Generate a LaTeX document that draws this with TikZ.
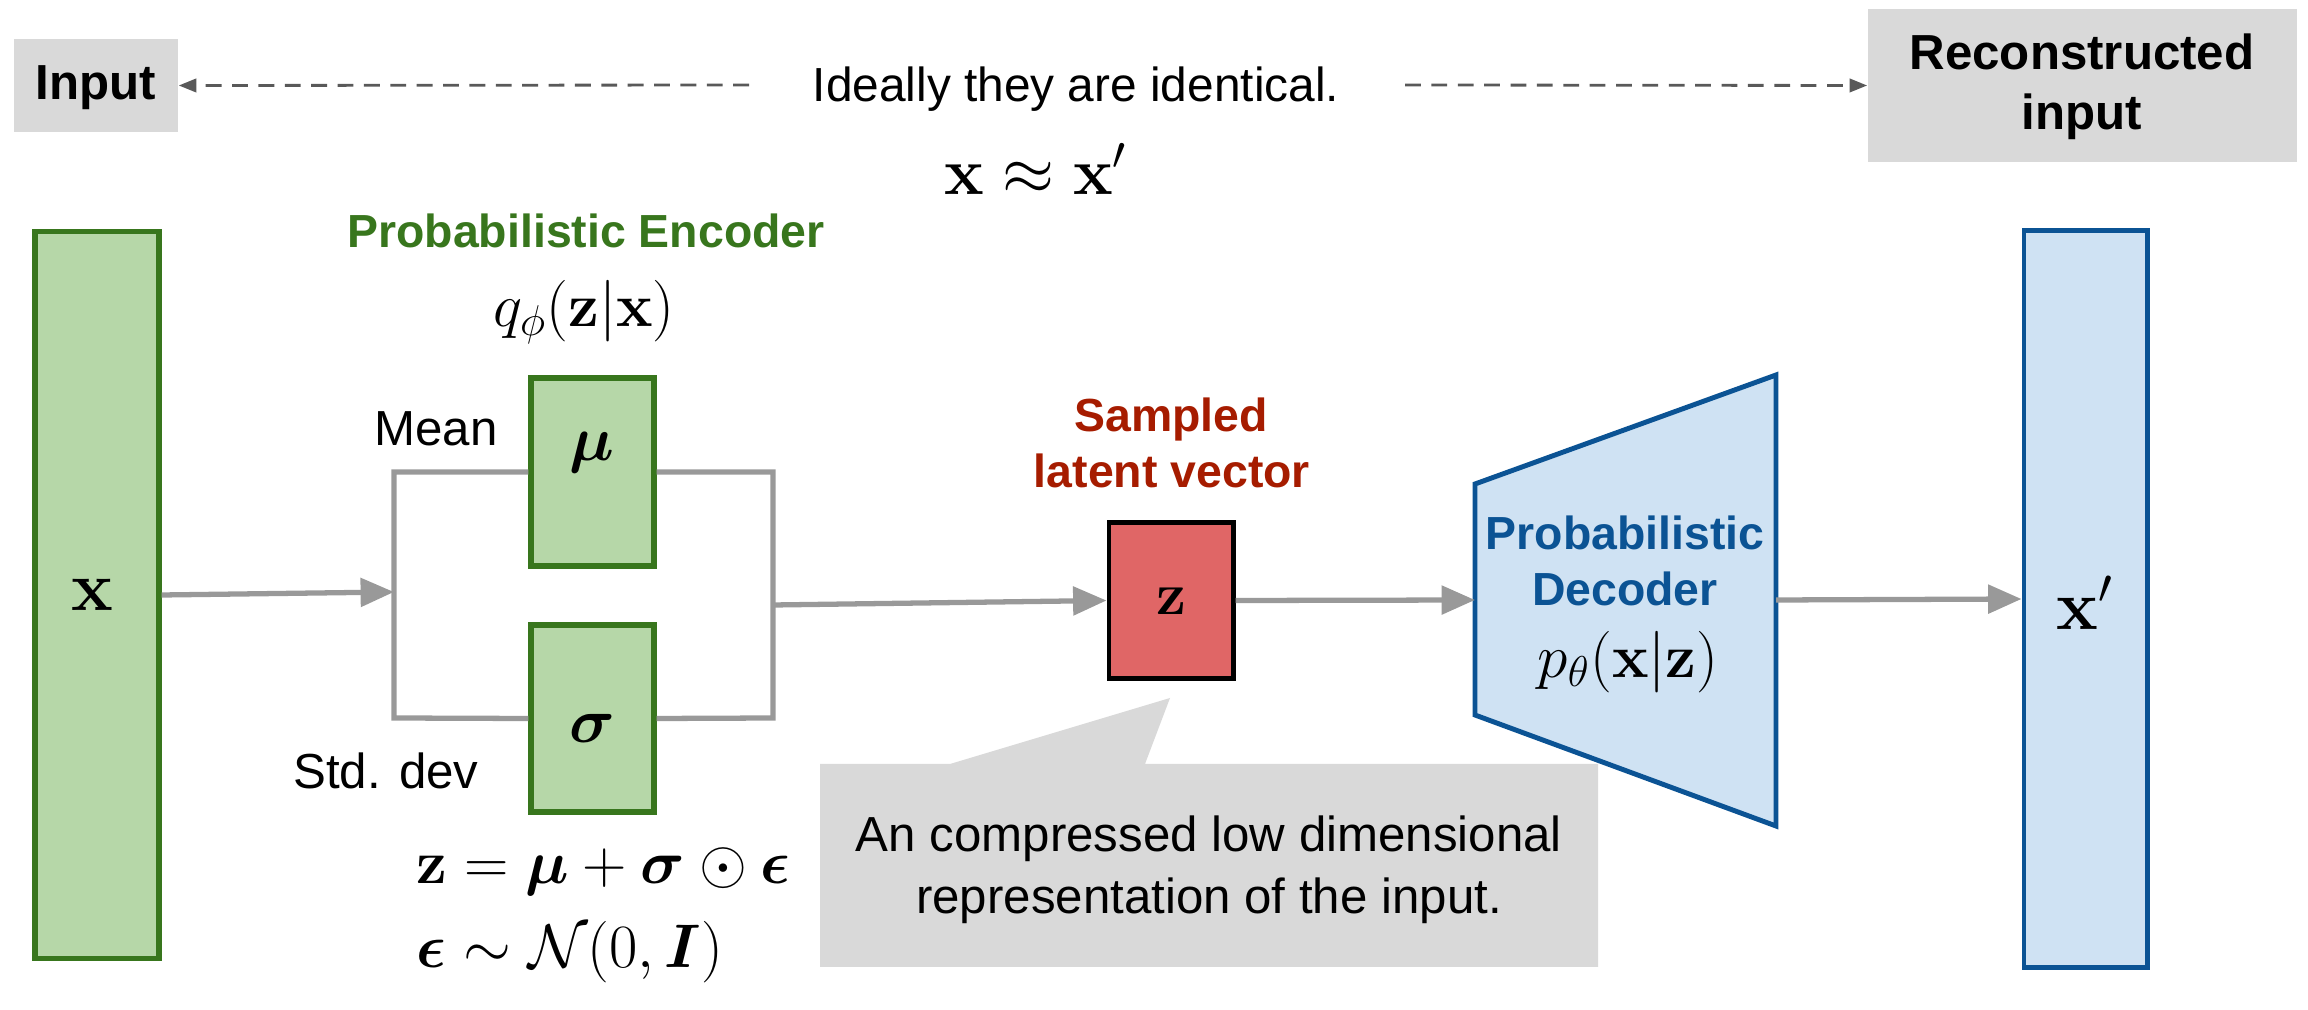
\RequirePackage{fix-cm}
\documentclass[tikz,border=0pt]{standalone}
\usepackage{amsmath,bm}
\usepackage[no-math]{fontspec}
\setmainfont{Liberation Sans}
\usetikzlibrary{arrows.meta}
\definecolor{boxgray}{HTML}{D9D9D9}
\definecolor{conngray}{HTML}{999999}
\definecolor{dashgray}{HTML}{595959}
\definecolor{encgreen}{HTML}{38761D}
\definecolor{encfill}{HTML}{B6D7A8}
\definecolor{decblue}{HTML}{0B5394}
\definecolor{decfill}{HTML}{CFE2F3}
\definecolor{zred}{HTML}{E06666}
\definecolor{zlabel}{HTML}{A61C00}
\begin{document}
\begin{tikzpicture}[x=0.01cm,y=-0.01cm,
  sans/.style={font=\fontsize{14}{17}\selectfont},
  bsans/.style={font=\fontsize{14}{17}\selectfont\bfseries},
  bsanss/.style={font=\fontsize{13.2}{16}\selectfont\bfseries},
  mathlbl/.style={font=\fontsize{17.5}{20}\selectfont},
  graybox/.style={fill=boxgray, inner sep=0pt},
  encbox/.style={draw=encgreen, fill=encfill, line width=1.5pt, inner sep=0pt},
  decbox/.style={draw=decblue, fill=decfill, line width=1.4pt, inner sep=0pt},
  zbox/.style={draw=black, fill=zred, line width=1.4pt, inner sep=0pt},
  conn/.style={draw=conngray, line width=1.5pt, -{Triangle[length=9.5pt,width=8pt]}},
  bracket/.style={draw=conngray, line width=1.5pt},
  dasharrow/.style={draw=dashgray, line width=0.8pt, dash pattern=on 4.5pt off 3pt, -{Triangle[length=5pt,width=3.8pt]}}
]
\useasboundingbox (0,0) rectangle (2308,1010);

% top row
\node[graybox, minimum width=1.64cm, minimum height=0.93cm] (inp) at (96,85.5) {};
\node[bsans, anchor=base] (inptxt) at (96,100) {Input};
\node[graybox, minimum width=4.29cm, minimum height=1.53cm] (rec) at (2082.5,85.5) {};
\node[bsans, anchor=base] (rectxt1) at (2082,70) {Reconstructed};
\node[bsans, anchor=base] (rectxt2) at (2082,130) {input};
\node[font=\fontsize{13.6}{16}\selectfont, anchor=base] (ideal) at (1076,102) {Ideally they are identical.};
\node[font=\fontsize{19}{22}\selectfont] (approx) at (1036,169) {$\mathbf{x} \approx \mathbf{x}'$};
\coordinate (dl) at (749,85);
\coordinate (dr) at (1405,85);
\draw[dasharrow] (dl) -- (inp.east);
\draw[dasharrow] (dr) -- (rec.west);

% input
\node[encbox, minimum width=1.24cm, minimum height=7.26cm] (xin) at (97,595) {};
\node[font=\fontsize{20}{24}\selectfont] (xlbl) at (92,595) {$\mathbf{x}$};

% encoder
\node[bsanss, text=encgreen, anchor=base] (enc) at (586,248) {Probabilistic Encoder};
\node[mathlbl] (qphi) at (584,312) {$q_{\phi}(\mathbf{z}|\mathbf{x})$};
\node[sans, anchor=base] (mean) at (436,446) {Mean};
\node[sans, anchor=base] (std) at (386,789) {Std. dev};
\node[encbox, minimum width=1.23cm, minimum height=1.88cm] (mu) at (592.5,472) {};
\node[font=\fontsize{18}{22}\selectfont] (mulbl) at (592,453) {$\bm{\mu}$};
\node[encbox, minimum width=1.23cm, minimum height=1.87cm] (sig) at (592.5,718.5) {};
\node[font=\fontsize{18}{22}\selectfont] (siglbl) at (592,728) {$\bm{\sigma}$};
\coordinate (bl) at (394,592);
\coordinate (br) at (773,605);
\draw[bracket] (mu.west) -- (394,472) -- (394,718) -- (sig.west);
\draw[bracket] (mu.east) -- (773,472) -- (773,718) -- (sig.east);
\draw[conn] (xin.east) -- (bl);
\node[mathlbl, anchor=base west] (eq1) at (404,884) {$\mathbf{z} = \bm{\mu} + \bm{\sigma} \odot \bm{\epsilon}$};
\node[mathlbl, anchor=base west] (eq2) at (404,968) {$\bm{\epsilon} \sim \mathcal{N}(0, \bm{I})$};

% latent
\node[bsanss, text=zlabel, anchor=base] (samp1) at (1171,432) {Sampled};
\node[bsanss, text=zlabel, anchor=base] (samp2) at (1172,488) {latent vector};
\node[zbox, minimum width=1.24cm, minimum height=1.55cm] (z) at (1171,600.5) {};
\node[font=\fontsize{17}{20}\selectfont] (zlbl) at (1171,601) {$\mathbf{z}$};
\draw[conn] (br) -- (z.west);

% callout
\fill[boxgray] (820,764) -- (950,764) -- (1170,698) -- (1145,764) -- (1598,764) -- (1598,967) -- (820,967) -- cycle;
\node[sans, anchor=base] (call1) at (1209,852) {An compressed low dimensional};
\node[sans, anchor=base] (call2) at (1209,914) {representation of the input.};

% decoder
\draw[decbox] (1475,484) -- (1776,375) -- (1776,826) -- (1475,715) -- cycle;
\coordinate (decin) at (1475,600);
\coordinate (decout) at (1776,600);
\node[bsanss, text=decblue, anchor=base] (dec1) at (1625,550) {Probabilistic};
\node[bsanss, text=decblue, anchor=base] (dec2) at (1625,606) {Decoder};
\node[mathlbl] (ptheta) at (1628,662) {$p_{\theta}(\mathbf{x}|\mathbf{z})$};
\draw[conn] (z.east) -- (decin);

% output
\node[decbox, minimum width=1.23cm, minimum height=7.36cm] (xout) at (2085.5,599) {};
\node[font=\fontsize{20}{24}\selectfont] (xoutlbl) at (2085,603) {$\mathbf{x}'$};
\draw[conn] (decout) -- (xout.west);
\end{tikzpicture}
\end{document}
